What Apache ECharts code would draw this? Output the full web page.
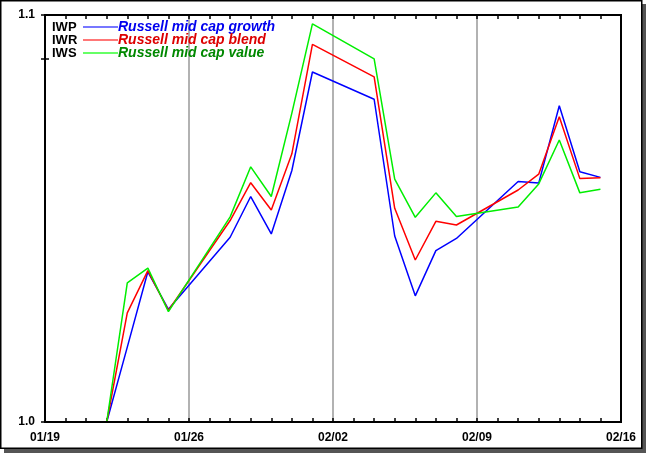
<!DOCTYPE html>
<html>
<head>
<meta charset="utf-8">
<script src="https://cdn.jsdelivr.net/npm/echarts@6/dist/echarts.min.js"></script>
<style>
html,body{margin:0;padding:0;background:#fff;}
#c{width:646px;height:454px;}
</style>
</head>
<body>
<div id="c"></div>
<script>
// ---- data (2008, trading days) ----
const dates = ['01/22','01/23','01/24','01/25','01/28','01/29','01/30','01/31','02/01',
               '02/04','02/05','02/06','02/07','02/08','02/11','02/12','02/13','02/14','02/15'];
const tickLabels = ['01/19','01/26','02/02','02/09','02/16'];
const tickers = ['IWP','IWR','IWS'];
const names = ['Russell mid cap growth','Russell mid cap blend','Russell mid cap value'];
const iwp = [1.0000,1.0184,1.0369,1.0277,1.0454,1.0554,1.0462,1.0618,1.0860,
             1.0793,1.0457,1.0310,1.0421,1.0451,1.0591,1.0587,1.0777,1.0615,1.0601];
const iwr = [1.0000,1.0268,1.0372,1.0274,1.0495,1.0588,1.0521,1.0659,1.0928,
             1.0848,1.0525,1.0398,1.0493,1.0484,1.0570,1.0609,1.0750,1.0598,1.0600];
const iws = [1.0000,1.0342,1.0378,1.0271,1.0504,1.0627,1.0554,1.0759,1.0978,
             1.0892,1.0597,1.0503,1.0563,1.0505,1.0528,1.0585,1.0693,1.0563,1.0572];
const yTicks = [1.0, 1.1];
const yMinorTickValues = [1.0, 1.0892, 1.1];

// ---- helpers ----
function dayOffset(md){
  const [m,d] = md.split('/').map(Number);
  return (Date.UTC(2008, m-1, d) - Date.UTC(2008, 0, 19)) / 86400000;
}
const xs = dates.map(dayOffset);
const pairs = vals => xs.map((x,i)=>[x, vals[i]]);

const lineColors = ['#0000ff','#ff0000','#00ee00'];
const legendLineColors = ['#4a4aff','#ff4a4a','#33ff33'];
const legendTextColors = ['#0000ee','#dd0000','#008800'];

const rich = { t: {fontSize:13, fontWeight:'bold', color:'#000', width:31, lineHeight:13, fontFamily:'Liberation Sans'} };
for (let i=0;i<3;i++){
  rich['l'+i] = {width:35, height:1.5, backgroundColor:legendLineColors[i]};
  rich['n'+i] = {fontSize:14, fontWeight:'bold', fontStyle:'italic', color:legendTextColors[i], lineHeight:13, fontFamily:'Liberation Sans'};
}

const chart = echarts.init(document.getElementById('c'), null, {renderer:'canvas'});
const axisFont = {fontFamily:'Liberation Sans', fontSize:12, fontWeight:'bold', color:'#000'};

chart.setOption({
  animation:false,
  backgroundColor:'#fff',
  graphic:[
    {type:'rect', z:-10, silent:true, shape:{x:4,y:4,width:642,height:449}, style:{fill:'#555'}},
    {type:'rect', z:-9, silent:true, shape:{x:0.75,y:0.75,width:641,height:447.5}, style:{fill:'#fff', stroke:'#000', lineWidth:1.5}}
  ],
  grid:{left:45, right:25, top:15, bottom:32, show:true, borderColor:'#000', borderWidth:2, backgroundColor:'transparent', z:3},
  legend:{
    orient:'vertical', left:42, top:15, itemGap:-1, itemWidth:0, itemHeight:0, icon:'none', padding:[5,5,5,5],
    selectedMode:false,
    data: tickers,
    formatter: function(name){
      const i = tickers.indexOf(name);
      return '{t|' + name + '}{l' + i + '|}{n' + i + '|' + names[i] + '}';
    },
    textStyle:{rich:rich, lineHeight:13}
  },
  xAxis:[{
    type:'value', min:0, max:28, interval:7, position:'bottom',
    axisLine:{show:false},
    axisTick:{show:true, inside:true, length:4, lineStyle:{color:'#000', width:1.5}},
    minorTick:{show:true, splitNumber:7, length:4, lineStyle:{color:'#000', width:1.5}},
    axisLabel:Object.assign({margin:10, formatter: v => tickLabels[Math.round(v/7)]}, axisFont),
    splitLine:{show:true, lineStyle:{color:'#999', width:1.5}}
  },{
    type:'value', min:0, max:28, interval:7, position:'top',
    axisLine:{show:false},
    axisTick:{show:true, inside:true, length:4, lineStyle:{color:'#000', width:1.5}},
    minorTick:{show:true, splitNumber:7, length:4, lineStyle:{color:'#000', width:1.5}},
    axisLabel:{show:false}, splitLine:{show:false}
  }],
  yAxis:[{
    type:'value', min:1.0, max:1.1, interval:0.1, position:'left',
    axisLine:{show:false},
    axisTick:{show:true, inside:true, length:4, customValues:yMinorTickValues, lineStyle:{color:'#000', width:1.5}},
    axisLabel:Object.assign({margin:10, customValues:yTicks, formatter: v => v.toFixed(1)}, axisFont),
    splitLine:{show:false}
  },{
    type:'value', min:1.0, max:1.1, interval:0.1, position:'right',
    axisLine:{show:false},
    axisTick:{show:true, inside:true, length:4, customValues:yMinorTickValues, lineStyle:{color:'#000', width:1.5}},
    axisLabel:{show:false}, splitLine:{show:false}
  }],
  series: [iwp, iwr, iws].map((vals,i)=>({
    name: tickers[i], type:'line', data: pairs(vals), showSymbol:false, symbol:'none',
    lineStyle:{color:lineColors[i], width:1.5}, itemStyle:{color:lineColors[i]}, z:2
  }))
});
</script>
</body>
</html>
